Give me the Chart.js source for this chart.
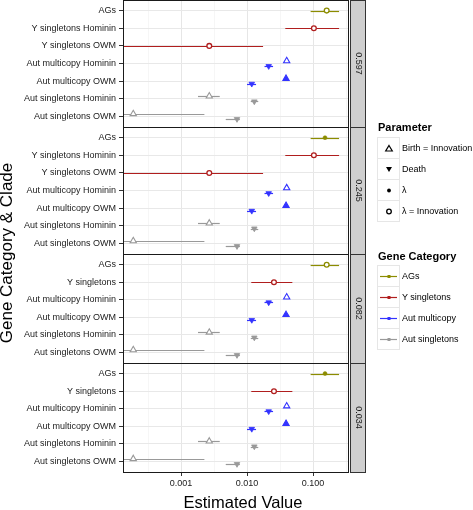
<!DOCTYPE html>
<html><head><meta charset="utf-8">
<script src="https://cdn.jsdelivr.net/npm/chart.js@4.4.1/dist/chart.umd.min.js"></script>
<style>
html,body{margin:0;padding:0;background:#fff;}
#wrap{position:relative;width:473px;height:510px;overflow:hidden;font-family:"Liberation Sans",Arial,Helvetica,sans-serif;color:#000;}
#c{position:absolute;left:0;top:0;}
.t{position:absolute;white-space:nowrap;}
#ytitle{left:-143px;top:243px;width:300px;height:20px;line-height:20px;text-align:center;font-size:17px;transform:rotate(-90deg);transform-origin:150px 10px;}
#xtitle{left:93px;top:492px;width:300px;height:20px;line-height:20px;text-align:center;font-size:16.5px;}
.lt{position:absolute;font-weight:bold;font-size:11px;line-height:14px;white-space:nowrap;}
.key{position:absolute;width:21px;height:20px;border:1px solid #e6e6e6;background:#fff;}
.key svg{position:absolute;left:0;top:0;}
.kl{position:absolute;font-size:9px;line-height:12px;white-space:nowrap;}
</style></head><body>
<div id="wrap">
<canvas id="c" width="473" height="510"></canvas>
<div id="ytitle" class="t">Gene Category &amp; Clade</div>
<div id="xtitle" class="t">Estimated Value</div>
<div id="legend"></div>
</div>
<script>
// ---------- data ----------
const facetLabels = ['0.597', '0.245', '0.082', '0.034'];
const categoriesSplit = ['AGs', 'Y singletons Hominin', 'Y singletons OWM', 'Aut multicopy Hominin', 'Aut multicopy OWM', 'Aut singletons Hominin', 'Aut singletons OWM'];
const categoriesMerged = ['AGs', 'Y singletons', 'Aut multicopy Hominin', 'Aut multicopy OWM', 'Aut singletons Hominin', 'Aut singletons OWM'];
const facetCategories = [categoriesSplit, categoriesSplit, categoriesMerged, categoriesMerged];
const geneCategories = ['AGs', 'Y singletons', 'Aut multicopy', 'Aut singletons'];
const parameterNames = ['Birth = Innovation', 'Death', 'λ', 'λ = Innovation'];

// estimates (aligned with facetCategories), null = not estimated
const birthEst = [
  [null, null, null, 0.0399, 0.0390, 0.00268, 0.000189],
  [null, null, null, 0.0399, 0.0390, 0.00268, 0.000189],
  [null, null, 0.0399, 0.0390, 0.00268, 0.000189],
  [null, null, 0.0399, 0.0390, 0.00268, 0.000189]
];
const birthLow = [
  [null, null, null, null, 0.0372, 0.00181, 0.000001],
  [null, null, null, null, 0.0372, 0.00181, 0.000001],
  [null, null, null, 0.0372, 0.00181, 0.000001],
  [null, null, null, 0.0372, 0.00181, 0.000001]
];
const birthHigh = [
  [null, null, null, null, 0.0412, 0.00386, 0.00226],
  [null, null, null, null, 0.0412, 0.00386, 0.00226],
  [null, null, null, 0.0412, 0.00386, 0.00226],
  [null, null, null, 0.0412, 0.00386, 0.00226]
];
const deathEst = [
  [null, null, null, 0.0213, 0.0118, 0.0129, 0.00705],
  [null, null, null, 0.0213, 0.0118, 0.0129, 0.00705],
  [null, null, 0.0213, 0.0118, 0.0129, 0.00705],
  [null, null, 0.0213, 0.0118, 0.0129, 0.00705]
];
const deathLow = [
  [null, null, null, 0.0184, 0.0100, 0.0114, 0.00476],
  [null, null, null, 0.0184, 0.0100, 0.0114, 0.00476],
  [null, null, 0.0184, 0.0100, 0.0114, 0.00476],
  [null, null, 0.0184, 0.0100, 0.0114, 0.00476]
];
const deathHigh = [
  [null, null, null, 0.0248, 0.0137, 0.0148, 0.0078],
  [null, null, null, 0.0248, 0.0137, 0.0148, 0.0078],
  [null, null, 0.0248, 0.0137, 0.0148, 0.0078],
  [null, null, 0.0248, 0.0137, 0.0148, 0.0078]
];
const lambdaEst = [
  [null, null, null, null, null, null, null],
  [0.152, null, null, null, null, null, null],
  [null, null, null, null, null, null],
  [0.152, null, null, null, null, null]
];
const lambdaLow = [
  [null, null, null, null, null, null, null],
  [0.092, null, null, null, null, null, null],
  [null, null, null, null, null, null],
  [0.092, null, null, null, null, null]
];
const lambdaHigh = [
  [null, null, null, null, null, null, null],
  [0.248, null, null, null, null, null, null],
  [null, null, null, null, null, null],
  [0.248, null, null, null, null, null]
];
const lambdaInnovEst = [
  [0.161, 0.103, 0.00268, null, null, null, null],
  [null, 0.103, 0.00268, null, null, null, null],
  [0.161, 0.0256, null, null, null, null],
  [null, 0.0256, null, null, null, null]
];
const lambdaInnovLow = [
  [0.092, 0.038, 0.00001, null, null, null, null],
  [null, 0.038, 0.00001, null, null, null, null],
  [0.092, 0.0116, null, null, null, null],
  [null, 0.0116, null, null, null, null]
];
const lambdaInnovHigh = [
  [0.248, 0.248, 0.0175, null, null, null, null],
  [null, 0.248, 0.0175, null, null, null, null],
  [0.248, 0.0486, null, null, null, null],
  [null, 0.0486, null, null, null, null]
];
const xTickValues = [0.001, 0.01, 0.1];
const xTickLabels = ['0.001', '0.010', '0.100'];

// ---------- styles ----------
const geneColors = ['#8c8c00', '#b01e1e', '#3333ff', '#999999'];
const FONT = '"Liberation Sans", Arial, Helvetica, sans-serif';
const X_MIN = Math.pow(10, -3.879), X_MAX = Math.pow(10, -0.455);
const DODGE = 0.15;

const groupOf = c => geneCategories.find(g => c.startsWith(g));
const colorOf = g => geneColors[geneCategories.indexOf(g)];

const params = [
  {name: parameterNames[0], est: birthEst, lo: birthLow, hi: birthHigh, dodge: -DODGE,
   style: {pointStyle: 'triangle', pointRadius: 3.6, pointBorderWidth: 1.1,
     pointBackgroundColor: ctx => (ctx.raw && ctx.raw.cat === 'Aut multicopy OWM') ? colorOf(ctx.raw.g) : '#ffffff'}},
  {name: parameterNames[1], est: deathEst, lo: deathLow, hi: deathHigh, dodge: DODGE,
   style: {pointStyle: 'triangle', pointRotation: 180, pointRadius: 3.2, pointBorderWidth: 0.8,
     pointBackgroundColor: ctx => ctx.raw ? colorOf(ctx.raw.g) : '#000'}},
  {name: parameterNames[2], est: lambdaEst, lo: lambdaLow, hi: lambdaHigh, dodge: 0,
   style: {pointStyle: 'circle', pointRadius: 2, pointBorderWidth: 0.5,
     pointBackgroundColor: ctx => ctx.raw ? colorOf(ctx.raw.g) : '#000'}},
  {name: parameterNames[3], est: lambdaInnovEst, lo: lambdaInnovLow, hi: lambdaInnovHigh, dodge: 0,
   style: {pointStyle: 'circle', pointRadius: 2.4, pointBorderWidth: 1.3, pointBackgroundColor: '#ffffff'}}
];

const datasets = [];
facetLabels.forEach((lab, f) => {
  const cats = facetCategories[f];
  params.forEach(p => {
    const pts = [];
    cats.forEach((c, i) => {
      const v = p.est[f][i];
      if (v == null) return;
      const paired = birthEst[f][i] != null && deathEst[f][i] != null;
      pts.push({x: v, y: i + (paired ? p.dodge : 0), lo: p.lo[f][i], hi: p.hi[f][i], g: groupOf(c), cat: c});
    });
    if (!pts.length) return;
    datasets.push(Object.assign({
      label: p.name + ' ' + lab, data: pts, xAxisID: 'x', yAxisID: 'f' + f, showLine: false,
      pointBorderColor: ctx => ctx.raw ? colorOf(ctx.raw.g) : '#000',
      pointHoverRadius: p.style.pointRadius
    }, p.style));
  });
});

const isMajor = v => xTickValues.some(t => Math.abs(Math.log10(t) - Math.log10(v)) < 1e-6);
const minorTicks = [];
for (let i = 0; i < xTickValues.length; i++) {
  const prev = i === 0 ? xTickValues[0] / 10 : xTickValues[i - 1];
  minorTicks.push(Math.sqrt(prev * xTickValues[i]));
}
minorTicks.push(Math.sqrt(xTickValues[xTickValues.length - 1] * xTickValues[xTickValues.length - 1] * 10));

const scales = {
  x: {
    type: 'logarithmic', position: 'bottom', min: X_MIN, max: X_MAX,
    afterBuildTicks: s => {
      s.ticks = xTickValues.concat(minorTicks).filter(v => v >= X_MIN && v <= X_MAX).sort((a, b) => a - b).map(v => ({value: v}));
    },
    afterFit: s => { s.height = 38; s.paddingLeft = 0; s.paddingRight = 0; },
    ticks: {autoSkip: false, maxRotation: 0, padding: 2, color: '#1a1a1a', font: {family: FONT, size: 9},
      callback: v => { const k = xTickValues.findIndex(t => Math.abs(Math.log10(t) - Math.log10(v)) < 1e-6); return k >= 0 ? xTickLabels[k] : ''; }},
    grid: {
      color: ctx => (ctx.tick && isMajor(ctx.tick.value)) ? '#e6e6e6' : '#f0f0f0',
      lineWidth: ctx => (ctx.tick && isMajor(ctx.tick.value)) ? 1 : 0.6,
      tickColor: ctx => (ctx.tick && isMajor(ctx.tick.value)) ? '#333333' : 'rgba(0,0,0,0)',
      tickLength: 4
    },
    border: {display: false}
  }
};
// left boxes are laid out in reverse definition order, so define the last facet first
for (let f = facetLabels.length - 1; f >= 0; f--) {
  const cats = facetCategories[f];
  scales['f' + f] = {
    type: 'linear', position: 'left', stack: 'facets', stackWeight: cats.length,
    reverse: true, min: -0.6, max: cats.length - 0.4,
    afterBuildTicks: s => { s.ticks = cats.map((c, i) => ({value: i})); },
    afterFit: s => { s.width = 123; s.paddingTop = 0; s.paddingBottom = 0; },
    ticks: {autoSkip: false, padding: 3, color: '#1a1a1a', font: {family: FONT, size: 9},
      callback: v => cats[v]},
    grid: {color: '#e8e8e8', lineWidth: 1, tickColor: '#333333', tickLength: 4},
    border: {display: false}
  };
}

const facetPlugin = {
  id: 'facetPlugin',
  beforeDatasetsDraw(chart) {
    const ctx = chart.ctx, a = chart.chartArea, xs = chart.scales.x;
    ctx.save();
    ctx.beginPath(); ctx.rect(a.left, a.top, a.right - a.left, a.bottom - a.top); ctx.clip();
    chart.data.datasets.forEach(ds => {
      const ys = chart.scales[ds.yAxisID];
      ds.data.forEach(pt => {
        if (pt.lo == null || pt.hi == null) return;
        const y = Math.round(ys.getPixelForValue(pt.y)) + 0.5;
        ctx.strokeStyle = colorOf(pt.g); ctx.lineWidth = 1.2;
        ctx.beginPath();
        ctx.moveTo(xs.getPixelForValue(pt.lo), y);
        ctx.lineTo(xs.getPixelForValue(pt.hi), y);
        ctx.stroke();
      });
    });
    ctx.restore();
  },
  afterDraw(chart) {
    const ctx = chart.ctx, a = chart.chartArea;
    ctx.save();
    facetLabels.forEach((lab, f) => {
      const ys = chart.scales['f' + f];
      const top = Math.round(ys.top), bot = Math.round(ys.bottom);
      ctx.strokeStyle = '#1a1a1a'; ctx.lineWidth = 1;
      ctx.strokeRect(Math.round(a.left) + 0.5, top + 0.5, Math.round(a.right - a.left) - 1, bot - top);
      // strip
      const sx = Math.round(a.right) + 1;
      ctx.fillStyle = '#cfcfcf';
      ctx.fillRect(sx + 0.5, top + 0.5, 15, bot - top);
      ctx.strokeStyle = '#333333';
      ctx.strokeRect(sx + 0.5, top + 0.5, 15, bot - top);
      ctx.save();
      ctx.translate(sx + 8, (top + bot) / 2);
      ctx.rotate(Math.PI / 2);
      ctx.fillStyle = '#1a1a1a';
      ctx.font = '9px ' + FONT;
      ctx.textAlign = 'center'; ctx.textBaseline = 'middle';
      ctx.fillText(lab, 0, 0);
      ctx.restore();
    });
    ctx.restore();
  }
};

new Chart(document.getElementById('c'), {
  type: 'scatter',
  data: {datasets},
  options: {
    responsive: false, animation: false, events: [],
    layout: {autoPadding: false, padding: {top: 0, right: 124, left: 0, bottom: 0}},
    plugins: {legend: {display: false}, tooltip: {enabled: false}},
    scales
  },
  plugins: [facetPlugin]
});

// ---------- legend (HTML) ----------
const legend = document.getElementById('legend');
function addEl(cls, x, y, html) {
  const d = document.createElement('div'); d.className = cls;
  d.style.left = x + 'px'; d.style.top = y + 'px'; d.innerHTML = html; legend.appendChild(d); return d;
}
const paramSymbols = [
  '<polygon points="11,7.5 14.3,13 7.7,13" fill="#fff" stroke="#000" stroke-width="1.2"/>',
  '<polygon points="8,8 14,8 11,13" fill="#000"/>',
  '<circle cx="11" cy="10.5" r="1.9" fill="#000"/>',
  '<circle cx="11" cy="10.5" r="2.3" fill="#fff" stroke="#000" stroke-width="1.3"/>'
];
addEl('lt', 378, 120, 'Parameter');
parameterNames.forEach((n, i) => {
  const y = 137 + i * 21;
  addEl('key', 377, y, '<svg width="21" height="20">' + paramSymbols[i] + '</svg>');
  addEl('kl', 402, y + 5, n);
});
addEl('lt', 378, 249, 'Gene Category');
geneCategories.forEach((n, i) => {
  const y = 265 + i * 21;
  const c = geneColors[i];
  addEl('key', 377, y, '<svg width="21" height="20"><line x1="2" y1="10.5" x2="19" y2="10.5" stroke="' + c + '" stroke-width="1.2"/><rect x="9.5" y="9" width="3" height="3" fill="' + c + '"/></svg>');
  addEl('kl', 402, y + 5, n);
});
</script>
</body></html>
